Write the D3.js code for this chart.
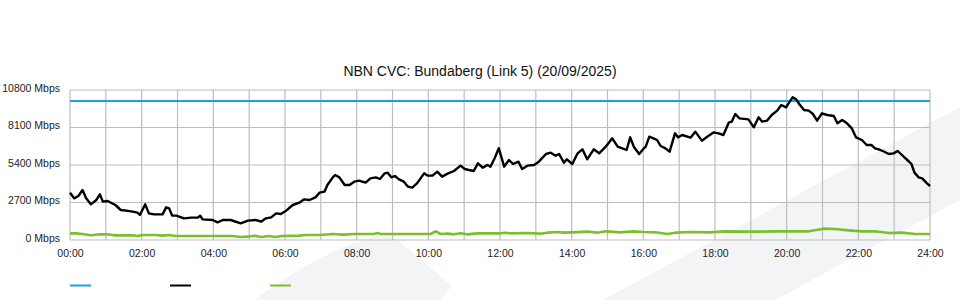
<!DOCTYPE html>
<html>
<head>
<meta charset="utf-8">
<style>
  body { margin: 0; background: #fff; }
  svg { display: block; font-family: "Liberation Sans", Arial, sans-serif; }
</style>
</head>
<body>
<svg width="960" height="300"></svg>
<script src="https://d3js.org/d3.v7.min.js"></script>
<script>

var title = "NBN CVC: Bundaberg (Link 5) (20/09/2025)";

// link capacity (Mbps)
var capacity = 10000;

// y axis ticks
var yTicks = [0, 2700, 5400, 8100, 10800];

// black series: minutes since midnight / Mbps
var trafficMinutes = [0, 7, 14, 21, 27, 35, 44, 50, 55, 63, 76, 85, 94, 105, 113, 117, 126, 132, 141, 155,
  161, 166, 171, 178, 191, 203, 214, 218, 222, 239, 247, 256, 269, 286, 298, 311, 320, 328, 337, 345,
  353, 362, 373, 384, 392, 401, 411, 418, 426, 431, 440, 444, 451, 460, 468, 476, 484, 495, 503, 512,
  519, 527, 532, 538, 544, 551, 559, 566, 573, 581, 593, 599, 607, 615, 623, 633, 643, 654, 661, 668,
  676, 683, 691, 699, 704, 711, 718, 727, 735, 742, 751, 757, 766, 777, 785, 797, 805, 813, 819, 827,
  832, 841, 850, 858, 866, 877, 886, 897, 908, 917, 932, 938, 944, 953, 960, 964, 970, 977, 983, 989,
  997, 1004, 1013, 1018, 1025, 1039, 1047, 1058, 1067, 1078, 1086, 1094, 1103, 1108, 1114, 1121, 1136, 1145, 1153, 1159,
  1167, 1175, 1184, 1191, 1199, 1204, 1210, 1216, 1221, 1229, 1237, 1244, 1251, 1259, 1268, 1279, 1285, 1293, 1301, 1309,
  1316, 1326, 1334, 1342, 1348, 1354, 1361, 1371, 1379, 1386, 1393, 1402, 1409, 1414, 1421, 1427, 1435, 1440];
var trafficValues = [3408, 3000, 3168, 3600, 3000, 2568, 2880, 3288, 2760, 2808, 2520, 2160, 2112, 2040, 1968, 1800, 2568, 1920, 1848, 1848,
  2352, 2280, 1752, 1752, 1560, 1608, 1608, 1752, 1488, 1440, 1272, 1440, 1440, 1200, 1392, 1440, 1320, 1560, 1632, 1920,
  1872, 2112, 2520, 2688, 2928, 2880, 3072, 3408, 3480, 3960, 4512, 4680, 4512, 3960, 3960, 4200, 4272, 4128, 4440, 4512,
  4392, 4800, 4848, 4512, 4608, 4368, 4200, 3840, 3768, 4080, 4800, 4632, 4632, 4920, 4560, 4800, 4968, 5352, 5112, 5040,
  4968, 5520, 5208, 5400, 5280, 5880, 6600, 5280, 5760, 5472, 5640, 5112, 5352, 5400, 5640, 6192, 6288, 6072, 6192, 5568,
  5808, 5472, 6240, 6528, 5808, 6528, 6240, 6720, 7320, 6720, 6480, 7392, 6720, 6192, 6560, 6720, 7440, 7320, 7200, 6768,
  6600, 6360, 7680, 7392, 7560, 7368, 7800, 7152, 7440, 7752, 7680, 7560, 8448, 8520, 9072, 8760, 8688, 8112, 8832, 8520,
  8592, 9000, 9312, 9720, 9552, 9888, 10272, 10128, 9792, 9360, 9312, 9072, 8592, 9120, 9000, 8928, 8400, 8640, 8400, 8040,
  7392, 7200, 6840, 6840, 6600, 6528, 6408, 6192, 6240, 6408, 6120, 5760, 5472, 4848, 4512, 4440, 4080, 3888];

// green series: minutes since midnight / Mbps
var greenMinutes = [0, 10, 21, 35, 49, 63, 74, 105, 113, 122, 144, 155, 166, 177, 217, 244, 272, 286, 297, 309,
  320, 334, 342, 356, 384, 395, 418, 440, 457, 476, 509, 515, 520, 604, 612, 621, 632, 643, 654, 665,
  682, 721, 729, 738, 766, 788, 799, 816, 827, 841, 866, 883, 897, 922, 944, 960, 980, 1000, 1014, 1042,
  1069, 1097, 1125, 1153, 1181, 1209, 1237, 1262, 1281, 1304, 1326, 1348, 1371, 1393, 1415, 1440];
var greenValues = [480, 480, 432, 336, 408, 408, 336, 336, 288, 360, 360, 312, 360, 288, 288, 288, 288, 216, 240, 312,
  216, 288, 216, 288, 312, 360, 360, 432, 384, 432, 432, 504, 432, 432, 624, 432, 456, 408, 480, 408,
  480, 480, 528, 480, 504, 456, 528, 576, 528, 552, 600, 528, 624, 552, 624, 576, 552, 432, 528, 576,
  552, 624, 600, 600, 624, 624, 624, 816, 792, 696, 624, 624, 504, 528, 432, 432];

var colors = { cap: "#1ba1df", traffic: "#000000", green: "#7cbf2c" };

var svg = d3.select("svg"),
    margin = {top: 90, right: 30, bottom: 60, left: 70},
    width = +svg.attr("width") - margin.left - margin.right,
    height = +svg.attr("height") - margin.top - margin.bottom;

// background watermark
svg.append("path")
    .attr("fill", "#f3f4f6")
    .attr("d", "M254,300 Q320,252 372,237 Q392,232 401,243 L452,286 L440,300 Z");
svg.append("path")
    .attr("fill", "#f3f4f6")
    .attr("d", "M603,300 L960,107 L960,200 L775,300 Z");

var g = svg.append("g").attr("transform", "translate(" + margin.left + "," + margin.top + ")");

var x = d3.scaleLinear().domain([0, 1440]).range([0, width]);
var y = d3.scaleLinear().domain([0, 10800]).range([height, 0]);

function hhmm(m) {
  return d3.format("02d")(Math.floor(m / 60)) + ":" + d3.format("02d")(m % 60);
}

// grid
g.append("g")
  .selectAll("line")
  .data(d3.range(0, 1441, 60))
  .enter().append("line")
    .attr("x1", function(d) { return x(d); })
    .attr("x2", function(d) { return x(d); })
    .attr("y1", 0)
    .attr("y2", height)
    .attr("stroke", "#bdbdbd")
    .attr("stroke-width", 1.2);

g.append("g")
  .selectAll("line")
  .data(yTicks)
  .enter().append("line")
    .attr("x1", 0)
    .attr("x2", width)
    .attr("y1", function(d) { return y(d); })
    .attr("y2", function(d) { return y(d); })
    .attr("stroke", "#bdbdbd")
    .attr("stroke-width", 1.2);

// axes
var xAxis = g.append("g")
    .attr("transform", "translate(0," + height + ")")
    .call(d3.axisBottom(x).tickValues(d3.range(0, 1441, 120)).tickFormat(hhmm).tickSize(0).tickPadding(10));
xAxis.select(".domain").remove();

var yAxis = g.append("g")
    .call(d3.axisLeft(y).tickValues(yTicks).tickFormat(function(d) { return d + " Mbps"; }).tickSize(0).tickPadding(10));
yAxis.select(".domain").remove();
yAxis.selectAll(".tick text").attr("dy", "0.1em");

g.selectAll(".tick text")
    .attr("fill", "#222")
    .style("font-size", "10.5px")
    .style("font-family", "'Liberation Sans', Arial, sans-serif");

// series
var line = d3.line()
    .x(function(d) { return x(d[0]); })
    .y(function(d) { return y(d[1]); });

g.append("path")
    .datum([[0, capacity], [1440, capacity]])
    .attr("fill", "none")
    .attr("stroke", colors.cap)
    .attr("stroke-width", 2)
    .attr("d", line);

g.append("path")
    .datum(d3.zip(greenMinutes, greenValues))
    .attr("fill", "none")
    .attr("stroke", colors.green)
    .attr("stroke-width", 2.6)
    .attr("stroke-linejoin", "round")
    .attr("d", line);

g.append("path")
    .datum(d3.zip(trafficMinutes, trafficValues))
    .attr("fill", "none")
    .attr("stroke", colors.traffic)
    .attr("stroke-width", 2.4)
    .attr("stroke-linejoin", "round")
    .attr("d", line);

// title
svg.append("text")
    .attr("x", 480)
    .attr("y", 76)
    .attr("text-anchor", "middle")
    .attr("fill", "#111")
    .style("font-size", "14px")
    .text(title);

// legend (swatches only)
svg.append("g")
  .selectAll("line")
  .data([colors.cap, colors.traffic, colors.green])
  .enter().append("line")
    .attr("x1", function(d, i) { return 70 + i * 100; })
    .attr("x2", function(d, i) { return 91 + i * 100; })
    .attr("y1", 285.5)
    .attr("y2", 285.5)
    .attr("stroke", function(d) { return d; })
    .attr("stroke-width", 2);

</script>
</body>
</html>
